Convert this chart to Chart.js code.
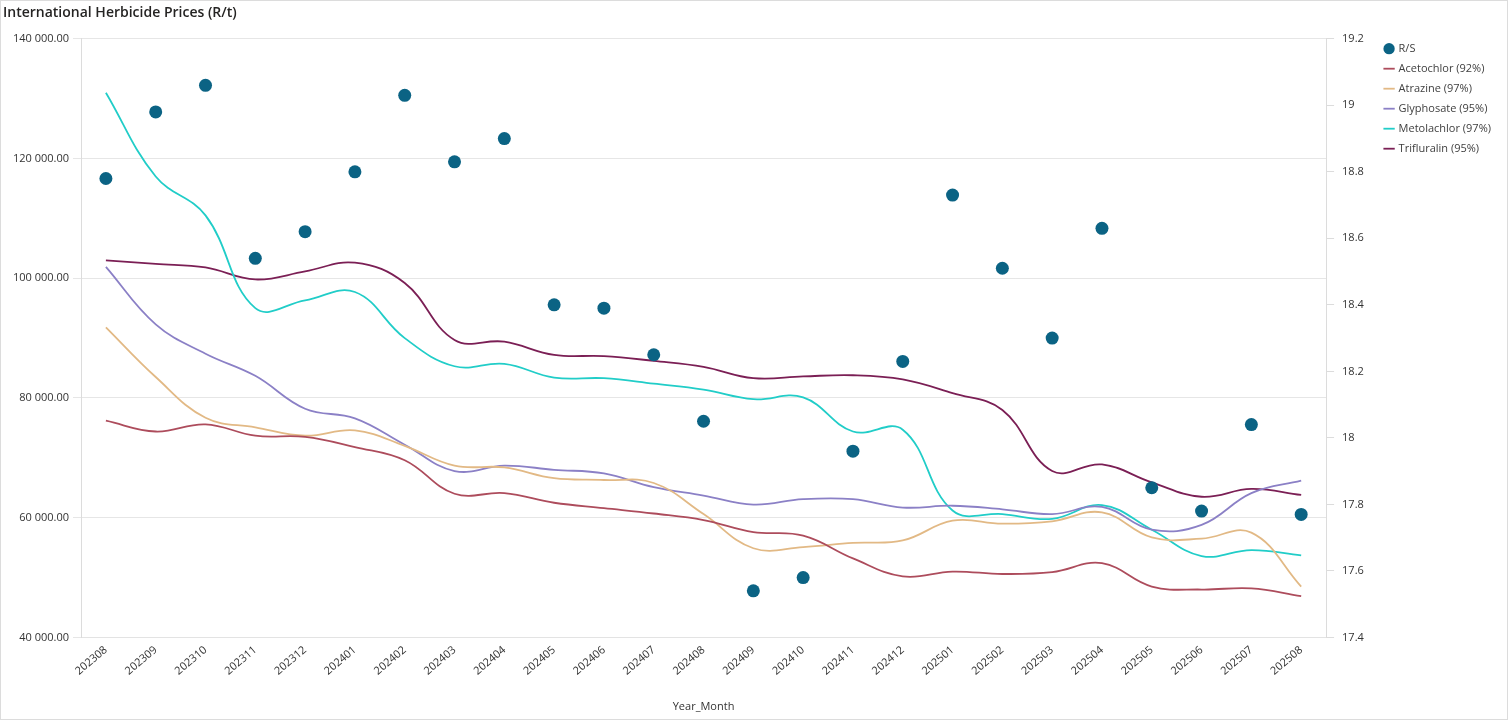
<!DOCTYPE html>
<html>
<head>
<meta charset="utf-8">
<script src="https://cdn.jsdelivr.net/npm/chart.js@4.4.0/dist/chart.umd.min.js"></script>
<style>
  html, body { margin: 0; padding: 0; background: #fff; }
  #wrap { position: absolute; left: 0; top: 0; width: 1506px; height: 718px; border: 1px solid #dcdcdc; }
  canvas { display: block; }
</style>
</head>
<body>
<div id="wrap"><canvas id="herbicide_chart" width="1506" height="718"></canvas></div>
<script>
// months on the x axis
var months = ['202308','202309','202310','202311','202312','202401','202402','202403','202404',
  '202405','202406','202407','202408','202409','202410','202411','202412','202501','202502',
  '202503','202504','202505','202506','202507','202508'];

// exchange rate, right axis
var rs = [18.78, 18.98, 19.06, 18.54, 18.62, 18.80, 19.03, 18.83, 18.90, 18.40, 18.39, 18.25, 18.05,
  17.54, 17.58, 17.96, 18.23, 18.73, 18.51, 18.30, 18.63, 17.85, 17.78, 18.04, 17.77];

// prices in R/t, left axis
var acetochlor = [76200, 74400, 75600, 73700, 73500, 71800, 69600, 64000, 64100, 62500, 61600, 60700, 59600,
  57600, 57000, 53200, 50200, 51000, 50600, 50900, 52400, 48500, 48000, 48200, 46900];
var atrazine = [91800, 83500, 76700, 75100, 73700, 74600, 72000, 68700, 68400, 66600, 66300, 65800, 60600,
  54900, 55100, 55800, 56200, 59500, 59000, 59400, 60900, 56700, 56500, 57500, 48500];
var glyphosate = [101900, 92300, 87400, 83700, 78200, 76600, 72200, 67800, 68700, 68000, 67400, 65100, 63700,
  62200, 63100, 63100, 61700, 62000, 61400, 60600, 61800, 58000, 58800, 64100, 66200];
var metolachlor = [131000, 117000, 110500, 95000, 96300, 97700, 90000, 85300, 85700, 83400, 83300, 82400, 81400,
  79800, 80100, 74400, 74700, 61200, 60600, 59800, 62100, 58000, 53600, 54600, 53700];
var trifluralin = [103000, 102400, 101800, 99800, 101150, 102600, 99200, 89700, 89400, 87200, 87000, 86200, 85200,
  83300, 83600, 83800, 83100, 80800, 78000, 67800, 68900, 65900, 63500, 64800, 63800];

var fontName = '"Open Sans", "Noto Sans", sans-serif';

function spaced(v) {
    return Math.round(v).toString().replace(/\B(?=(\d{3})+(?!\d))/g, ' ') + '.00';
}

function lineSet(label, values, colour) {
    return {
        label: label,
        data: values,
        yAxisID: 'yPrice',
        borderColor: colour,
        backgroundColor: colour,
        borderWidth: 1.8,
        pointRadius: 0,
        pointHoverRadius: 0,
        pointStyle: 'line',
        tension: 0.4,
        fill: false
    };
}

var config = {
    type: 'line',
    data: {
        labels: months,
        datasets: [
            {
                label: 'R/S',
                data: rs,
                yAxisID: 'yRate',
                showLine: false,
                pointStyle: 'circle',
                pointRadius: 6.5,
                pointHoverRadius: 6.5,
                backgroundColor: '#0b6384',
                borderColor: '#0b6384',
                borderWidth: 0
            },
            lineSet('Acetochlor (92%)', acetochlor, '#ad4c5c'),
            lineSet('Atrazine (97%)', atrazine, '#e2b985'),
            lineSet('Glyphosate (95%)', glyphosate, '#8b80c6'),
            lineSet('Metolachlor (97%)', metolachlor, '#21cdc8'),
            lineSet('Trifluralin (95%)', trifluralin, '#7b1f55')
        ]
    },
    options: {
        responsive: false,
        animation: false,
        layout: { padding: { left: 2, right: 6, top: 0, bottom: 2 } },
        plugins: {
            title: {
                display: true,
                text: 'International Herbicide Prices (R/t)',
                align: 'start',
                color: '#252423',
                font: { family: fontName, size: 14, weight: '600' },
                padding: { top: 4, bottom: 17 }
            },
            legend: {
                position: 'right',
                align: 'start',
                title: {
                    display: true,
                    text: ' ',
                    font: { family: fontName, size: 11 },
                    padding: { top: 9, bottom: 11 }
                },
                labels: {
                    usePointStyle: true,
                    boxWidth: 8,
                    boxHeight: 8,
                    padding: 9,
                    color: '#404040',
                    font: { family: fontName, size: 11 }
                }
            },
            tooltip: { enabled: false }
        },
        scales: {
            x: {
                offset: true,
                grid: { display: false, drawTicks: false },
                border: { color: '#e3e3e3' },
                ticks: {
                    minRotation: 40, maxRotation: 40, padding: 6,
                    color: '#333', font: { family: fontName, size: 11 }
                },
                title: {
                    display: true, text: 'Year_Month', color: '#333',
                    font: { family: fontName, size: 11 }, padding: { top: 16 }
                }
            },
            yPrice: {
                position: 'left',
                min: 40000, max: 140000,
                grid: { color: '#e6e6e6', tickLength: 8 },
                border: { color: '#dcdcdc' },
                afterFit: function(scale) { scale.width = 78; },
                ticks: {
                    stepSize: 20000, padding: 4,
                    color: '#333', font: { family: fontName, size: 11 },
                    callback: function(v) { return spaced(v); }
                }
            },
            yRate: {
                position: 'right',
                min: 17.4, max: 19.2,
                grid: { drawOnChartArea: false, color: '#dcdcdc', tickLength: 8 },
                border: { color: '#dcdcdc' },
                afterFit: function(scale) { scale.width = 50; },
                ticks: {
                    stepSize: 0.2, padding: 8,
                    color: '#333', font: { family: fontName, size: 11 },
                    callback: function(v) { return parseFloat(v.toFixed(1)).toString(); }
                }
            }
        }
    }
};

var myChart = new Chart(document.getElementById('herbicide_chart'), config);
</script>
</body>
</html>
